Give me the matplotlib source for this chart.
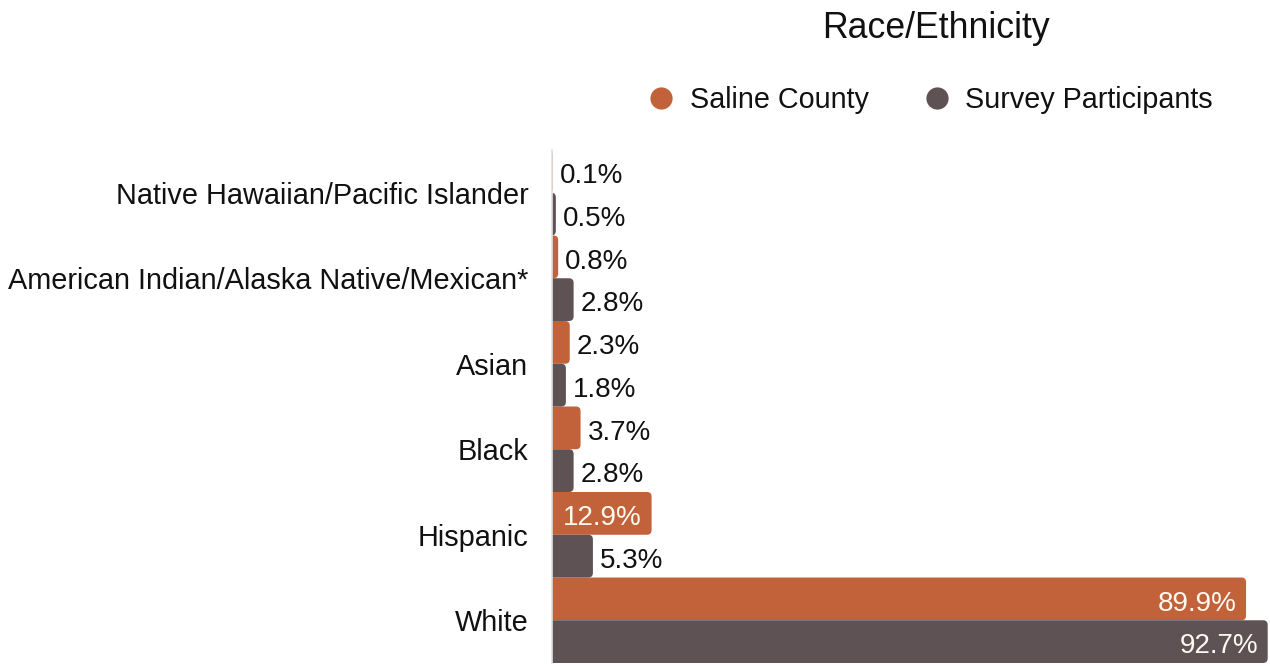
"""Race/Ethnicity: Saline County vs. survey participants, horizontal grouped bars."""

import matplotlib

matplotlib.use("Agg")
import matplotlib.pyplot as plt
from matplotlib.lines import Line2D
from matplotlib.patches import FancyBboxPatch

plt.rcParams["font.family"] = ["Liberation Sans", "DejaVu Sans"]

CATEGORIES = [
    "White",
    "Hispanic",
    "Black",
    "Asian",
    "American Indian/Alaska Native/Mexican*",
    "Native Hawaiian/Pacific Islander",
]
COUNTY = [89.9, 12.9, 3.7, 2.3, 0.8, 0.1]
SURVEY = [92.7, 5.3, 2.8, 1.8, 2.8, 0.5]

COUNTY_COLOR = "#c1623b"
SURVEY_COLOR = "#5e5254"
INSIDE_MIN = 10  # bars wider than this get the label inside

fig = plt.figure(figsize=(12.7, 6.66), dpi=100, facecolor="white")
ax = fig.add_axes([552 / 1270, 3 / 666, 718 / 1270, 513 / 666])

ypos = list(range(len(CATEGORIES)))
h = 0.5


def rounded_bars(ys, vals, color):
    bars = ax.barh(ys, vals, height=h, color=color)
    for b in bars:
        x0, y0 = b.get_x(), b.get_y()
        w, hh = b.get_width(), b.get_height()
        b.set_visible(False)
        # start a bit left of zero so only the right end shows rounding
        patch = FancyBboxPatch(
            (x0 - 1.5, y0), w + 1.5, hh,
            boxstyle="round,pad=0,rounding_size=0.6",
            mutation_aspect=0.09,
            facecolor=color, edgecolor="none", zorder=2,
        )
        ax.add_patch(patch)
    return bars


def label_bars(ys, vals):
    for y, v in zip(ys, vals):
        if v > INSIDE_MIN:
            ax.annotate(f"{v:.1f}%", (v, y), xytext=(-7, -3.5), textcoords="offset points",
                        ha="right", va="center", fontsize=20, color="#fffaf0", zorder=3)
        else:
            ax.annotate(f"{v:.1f}%", (v, y), xytext=(5, -3.5), textcoords="offset points",
                        ha="left", va="center", fontsize=20, color="#111111", zorder=3)


county_y = [y + h / 2 for y in ypos]
survey_y = [y - h / 2 for y in ypos]
rounded_bars(county_y, COUNTY, COUNTY_COLOR)
rounded_bars(survey_y, SURVEY, SURVEY_COLOR)
label_bars(county_y, COUNTY)
label_bars(survey_y, SURVEY)

ax.set_xlim(0, 93.0)
ax.set_ylim(-0.5, len(CATEGORIES) - 0.5)
ax.set_yticks(ypos)
ax.set_yticklabels(CATEGORIES, fontsize=20.8, color="#111111")
ax.tick_params(axis="y", length=0, pad=17)
ax.set_xticks([])
for side in ("top", "right", "bottom"):
    ax.spines[side].set_visible(False)
ax.spines["left"].set_color("#e0e0e0")
ax.spines["left"].set_linewidth(1.2)

fig.text(936 / 1270, 1 - 28 / 666, "Race/Ethnicity", ha="center", va="center",
         fontsize=25.7, color="#111111")

handles = [
    Line2D([], [], marker="o", linestyle="none", markersize=16,
           markerfacecolor=COUNTY_COLOR, markeredgecolor="none"),
    Line2D([], [], marker="o", linestyle="none", markersize=16,
           markerfacecolor=SURVEY_COLOR, markeredgecolor="none"),
]
fig.legend(handles, ["Saline County", "Survey Participants"],
           loc="center", bbox_to_anchor=(930 / 1270, 1 - 100 / 666),
           ncol=2, frameon=False, fontsize=20.7, handlelength=1.0,
           handletextpad=0.5, columnspacing=1.85, labelcolor="#111111")

fig.savefig("out.png", dpi=100, facecolor="white")
